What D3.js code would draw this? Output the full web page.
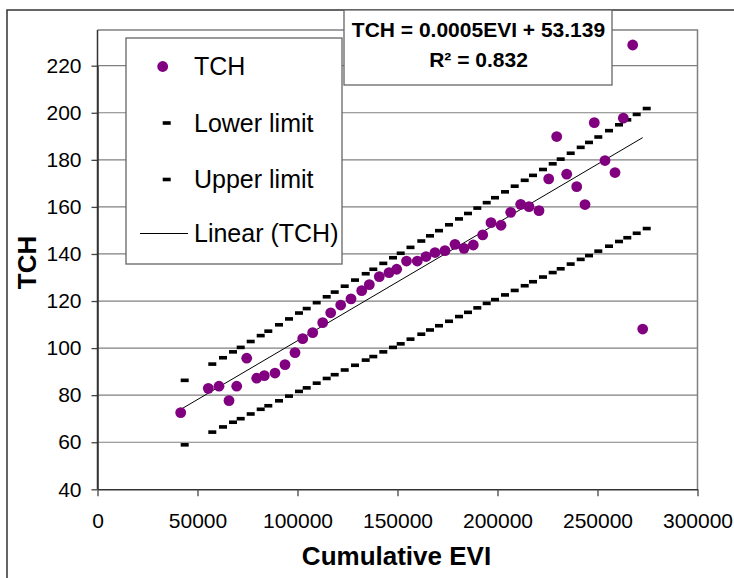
<!DOCTYPE html>
<html><head><meta charset="utf-8">
<script src="https://cdn.jsdelivr.net/npm/d3@7"></script>
<style>
body{margin:0;background:#fff}
svg{display:block;font-family:"Liberation Sans",Arial,Helvetica,sans-serif}
</style>
</head><body>
<svg id="chart" width="734" height="578"></svg>
<script>
// ---- data ----
const evi = [41600,55400,60750,65750,69600,74600,79600,83400,88750,93750,98750,102600,107600,112600,116600,121600,126750,132100,135900,140900,145750,149600,154500,159900,164250,168750,173750,178750,183250,187900,192600,196750,201750,206600,211600,215750,220750,225600,229600,234600,239600,243750,248400,253750,258750,262900,267600,272600];
const tch = [72.6,82.9,83.8,77.7,83.8,95.7,87.2,88.3,89.4,93.0,98.1,104.0,106.6,110.8,115.0,118.3,120.9,124.4,127.0,130.4,132.1,133.5,137.0,137.0,138.9,140.6,141.4,144.1,142.4,143.8,148.1,153.3,152.2,157.7,161.1,160.1,158.4,171.9,189.9,173.9,168.6,161.0,195.8,179.7,174.6,197.7,228.8,108.1];
const lowerLimit = [58.9,64.3,66.5,68.5,70.0,72.0,74.0,75.5,77.6,79.6,81.6,83.1,85.1,87.1,88.7,90.7,92.7,94.9,96.4,98.4,100.3,101.8,103.8,105.9,107.7,109.5,111.4,113.4,115.2,117.1,119.0,120.6,122.6,124.5,126.5,128.2,130.2,132.1,133.7,135.7,137.7,139.3,141.2,143.3,145.3,146.9,148.8,150.8];
const upperLimit = [86.3,93.2,95.9,98.4,100.3,102.8,105.3,107.2,109.9,112.4,114.9,116.8,119.3,121.8,123.8,126.3,128.9,131.6,133.5,136.0,138.4,140.3,142.8,145.5,147.7,149.9,152.4,154.9,157.2,159.5,161.8,163.9,166.4,168.8,171.3,173.4,175.9,178.3,180.3,182.8,185.3,187.4,189.7,192.4,194.9,197.0,199.3,201.8];
const xTicks = [0,50000,100000,150000,200000,250000,300000];
const yTicks = [40,60,80,100,120,140,160,180,200,220];
const trendSlope = 0.0005, trendIntercept = 53.139;
const equationLines = ["TCH = 0.0005EVI + 53.139", "R\u00B2 = 0.832"];
const legendLabels = ["TCH","Lower limit","Upper limit","Linear (TCH)"];
const xTitle = "Cumulative EVI", yTitle = "TCH";

// ---- layout ----
const L = 97.5, R = 697.5, T = 30, B = 489.3;
const purple = "#800080", gridCol = "#808080";
const svg = d3.select("#chart");
const x = d3.scaleLinear().domain([0,300000]).range([L,R]);
const y = d3.scaleLinear().domain([40,220]).range([B,65.7]);

// outer chart frame
svg.append("rect").attr("x",7).attr("y",10).attr("width",800).attr("height",700)
  .attr("fill","#fff").attr("stroke","#333").attr("stroke-width",1.5);

// gridlines
svg.append("g").selectAll("line").data(yTicks.filter(d=>d>40)).join("line")
  .attr("x1",L).attr("x2",R).attr("y1",d=>y(d)).attr("y2",d=>y(d))
  .attr("stroke",gridCol).attr("stroke-width",1.2);
// plot frame (top/right)
svg.append("path").attr("d",`M${L},${T}H${R}V${B}`).attr("fill","none")
  .attr("stroke",gridCol).attr("stroke-width",1.5);

// axes
const fontTick = "21px";
const gy = svg.append("g").attr("transform",`translate(${L},0)`)
  .call(d3.axisLeft(y).tickValues(yTicks).tickSize(6).tickPadding(10).tickSizeOuter(0));
const gx = svg.append("g").attr("transform",`translate(0,${B})`)
  .call(d3.axisBottom(x).tickValues(xTicks).tickSize(7).tickPadding(16.5).tickSizeOuter(0).tickFormat(d3.format("d")));
[gx,gy].forEach(g=>{
  g.attr("font-family",null).attr("font-size",null);
  g.selectAll("text").attr("font-size",fontTick).attr("fill","#000");
  g.selectAll("line").attr("stroke","#444").attr("stroke-width",1.3);
  g.select(".domain").attr("stroke","#333").attr("stroke-width",1.5);
});
// extend left axis up to plot top
svg.append("line").attr("x1",L).attr("x2",L).attr("y1",T).attr("y2",B).attr("stroke","#333").attr("stroke-width",1.5);

// axis titles
svg.append("text").attr("x",396.5).attr("y",565).attr("text-anchor","middle")
  .attr("font-size","26px").attr("font-weight","bold").text(xTitle);
svg.append("text").attr("transform","translate(36,262.5) rotate(-90)").attr("text-anchor","middle")
  .attr("font-size","26px").attr("font-weight","bold").text(yTitle);

// limits (dash markers)
const dashW = 8, dashH = 3.6;
[lowerLimit, upperLimit].forEach(arr=>{
  svg.append("g").selectAll("rect").data(arr).join("rect")
    .attr("x",(d,i)=>x(evi[i])).attr("y",d=>y(d)-dashH/2)
    .attr("width",dashW).attr("height",dashH).attr("fill","#000");
});

// trendline
const xMin = d3.min(evi), xMax = d3.max(evi);
svg.append("line").attr("x1",x(xMin)).attr("y1",y(trendIntercept+trendSlope*xMin))
  .attr("x2",x(xMax)).attr("y2",y(trendIntercept+trendSlope*xMax))
  .attr("stroke","#000").attr("stroke-width",1);

// points
svg.append("g").selectAll("circle").data(tch).join("circle")
  .attr("cx",(d,i)=>x(evi[i])).attr("cy",d=>y(d)).attr("r",5.4).attr("fill",purple);

// legend
const lg = svg.append("g");
lg.append("rect").attr("x",126).attr("y",38).attr("width",216).attr("height",226)
  .attr("fill","#fff").attr("stroke","#666").attr("stroke-width",1.3);
const rowY = [66.5, 123, 179.5, 233.5];
lg.selectAll("text").data(legendLabels).join("text")
  .attr("x",194).attr("y",(d,i)=>rowY[i]+6.5+(i===0?0:0)).attr("font-size","25px").attr("fill","#000")
  .attr("dominant-baseline","auto").text(d=>d)
  .attr("y",(d,i)=>rowY[i]+8.5);
lg.append("circle").attr("cx",162.7).attr("cy",rowY[0]).attr("r",5.4).attr("fill",purple);
[1,2].forEach(i=>lg.append("rect").attr("x",162.7).attr("y",rowY[i]-dashH/2).attr("width",dashW).attr("height",dashH).attr("fill","#000"));
lg.append("line").attr("x1",140).attr("x2",188).attr("y1",rowY[3]).attr("y2",rowY[3]).attr("stroke","#000").attr("stroke-width",1);

// equation box
const eg = svg.append("g");
eg.append("rect").attr("x",344).attr("y",10).attr("width",268).attr("height",75)
  .attr("fill","#fff").attr("stroke","#666").attr("stroke-width",1.3);
eg.selectAll("text").data(equationLines).join("text")
  .attr("x",478.5).attr("y",(d,i)=>37.3+i*29.5).attr("text-anchor","middle")
  .attr("font-size","21px").attr("font-weight","bold").text(d=>d);
</script>
</body></html>
